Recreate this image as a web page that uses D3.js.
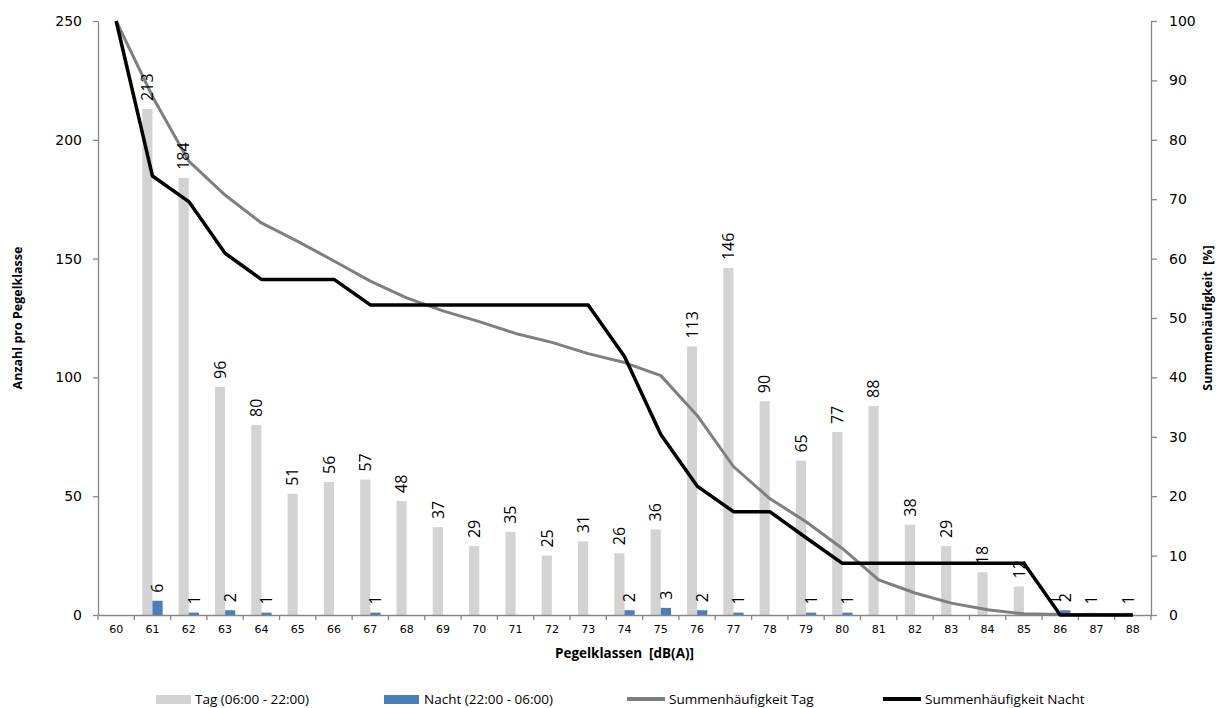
<!DOCTYPE html>
<html>
<head>
<meta charset="utf-8">
<script src="https://cdn.jsdelivr.net/npm/d3@7"></script>
<style>
  body { margin: 0; background: #fff; }
  svg { display: block; }
</style>
</head>
<body>
<svg id="chart" width="1216" height="708"></svg>
<script>
// Pegelklassen 60..88 dB(A)
var classes = ["60","61","62","63","64","65","66","67","68","69","70","71","72","73","74",
  "75","76","77","78","79","80","81","82","83","84","85","86","87","88"];

// Anzahl pro Pegelklasse
var tagCounts = [0,213,184,96,80,51,56,57,48,37,29,35,25,31,26,36,113,146,90,65,77,88,38,29,18,12,1,1,1];
var nachtCounts = [0,6,1,2,1,0,0,1,0,0,0,0,0,0,2,3,2,1,0,1,1,0,0,0,0,0,2,0,0];

// Summenhäufigkeit [%]
var tagCum = [100,87.3,76.4,70.7,66.0,62.9,59.6,56.2,53.4,51.2,49.4,47.4,45.9,44.0,42.5,
  40.3,33.6,25.0,19.6,15.7,11.2,5.9,3.7,2.0,0.9,0.2,0.1,0.1,0.0];
var nachtCum = [100,73.9,69.6,60.9,56.5,56.5,56.5,52.2,52.2,52.2,52.2,52.2,52.2,52.2,43.5,
  30.4,21.7,17.4,17.4,13.0,8.7,8.7,8.7,8.7,8.7,8.7,0,0,0];

var leftTicks = [0,50,100,150,200,250];
var rightTicks = [0,10,20,30,40,50,60,70,80,90,100];

var legendLabels = ["Tag (06:00 - 22:00)", "Nacht (22:00 - 06:00)", "Summenhäufigkeit Tag", "Summenhäufigkeit Nacht"];

var plotLeft = 98, plotRight = 1151, plotTop = 21, plotBottom = 615;
var axisColor = "#868686";
var tagColor = "#d3d3d3", nachtColor = "#4a7ebb";
var numFont = "DejaVu Sans, Verdana, sans-serif";
var txtFont = "Open Sans, Calibri, sans-serif";

var svg = d3.select("#chart");

var x = d3.scaleBand().domain(classes).range([plotLeft, plotRight]).padding(0);
var yL = d3.scaleLinear().domain([0, 250]).range([plotBottom, plotTop]);
var yR = d3.scaleLinear().domain([0, 100]).range([plotBottom, plotTop]);

var bw = x.bandwidth() * 0.28;

// bars
var gBars = svg.append("g");
gBars.selectAll(".tag").data(classes).enter().append("rect")
  .attr("x", function(d) { return x(d) + x.bandwidth() / 2 - bw; })
  .attr("width", bw)
  .attr("y", function(d, i) { return yL(tagCounts[i]); })
  .attr("height", function(d, i) { return plotBottom - yL(tagCounts[i]); })
  .attr("fill", tagColor);

gBars.selectAll(".nacht").data(classes).enter().append("rect")
  .attr("x", function(d) { return x(d) + x.bandwidth() / 2; })
  .attr("width", bw)
  .attr("y", function(d, i) { return yL(nachtCounts[i]); })
  .attr("height", function(d, i) { return plotBottom - yL(nachtCounts[i]); })
  .attr("fill", nachtColor);

// axes
var xAxis = d3.axisBottom(x).tickSize(0).tickPadding(10);
var gx = svg.append("g").attr("transform", "translate(0," + plotBottom + ")").call(xAxis);
gx.select(".domain").attr("stroke", axisColor).attr("stroke-width", 1.3);
gx.selectAll("text").attr("font-family", numFont).attr("font-size", 11).attr("fill", "#000");
// tick marks between classes
gx.selectAll(".sep").data(classes.concat(["end"])).enter().append("line")
  .attr("x1", function(d, i) { return plotLeft + i * x.bandwidth(); })
  .attr("x2", function(d, i) { return plotLeft + i * x.bandwidth(); })
  .attr("y1", 0).attr("y2", 5)
  .attr("stroke", axisColor).attr("stroke-width", 1.3);

var gyl = svg.append("g").attr("transform", "translate(" + plotLeft + ",0)")
  .call(d3.axisLeft(yL).tickValues(leftTicks).tickSize(5).tickPadding(11).tickSizeOuter(0));
var gyr = svg.append("g").attr("transform", "translate(" + plotRight + ",0)")
  .call(d3.axisRight(yR).tickValues(rightTicks).tickSize(6).tickPadding(12).tickSizeOuter(0));
[gyl, gyr].forEach(function(g) {
  g.select(".domain").attr("stroke", axisColor).attr("stroke-width", 1.3);
  g.selectAll(".tick line").attr("stroke", axisColor).attr("stroke-width", 1.3);
  g.selectAll("text").attr("font-family", numFont).attr("font-size", 14).attr("fill", "#000");
});

// cumulative lines
var cumLine = d3.line()
  .x(function(d, i) { return x(classes[i]) + x.bandwidth() / 2; })
  .y(function(d) { return yR(d); });

svg.append("path").datum(tagCum).attr("d", cumLine)
  .attr("fill", "none").attr("stroke", "#7f7f7f").attr("stroke-width", 3)
  .attr("stroke-linejoin", "round");
svg.append("path").datum(nachtCum).attr("d", cumLine)
  .attr("fill", "none").attr("stroke", "#000").attr("stroke-width", 3.5)
  .attr("stroke-linejoin", "round");

// data labels (rotated)
function addLabels(vals, offset) {
  svg.append("g").selectAll("text")
    .data(classes.filter(function(d, i) { return vals[i] > 0; }))
    .enter().append("text")
    .attr("transform", function(d) {
      var i = classes.indexOf(d);
      var cx = x(d) + x.bandwidth() / 2 + offset;
      return "translate(" + cx + "," + (yL(vals[i]) - 8) + ") rotate(-90)";
    })
    .attr("dy", "0.36em")
    .attr("font-family", txtFont).attr("font-size", 16).attr("fill", "#000")
    .text(function(d) { return vals[classes.indexOf(d)]; });
}
addLabels(tagCounts, -bw / 2);
addLabels(nachtCounts, bw / 2);

// axis titles
svg.append("text")
  .attr("transform", "translate(22," + ((plotTop + plotBottom) / 2) + ") rotate(-90)")
  .attr("text-anchor", "middle")
  .attr("font-family", txtFont).attr("font-weight", "bold").attr("font-size", 12.5)
  .text("Anzahl pro Pegelklasse");
svg.append("text")
  .attr("transform", "translate(1212," + ((plotTop + plotBottom) / 2) + ") rotate(-90)")
  .attr("text-anchor", "middle")
  .style("white-space", "pre")
  .attr("font-family", txtFont).attr("font-weight", "bold").attr("font-size", 12.5)
  .text("Summenhäufigkeit  [%]");
svg.append("text")
  .attr("x", (plotLeft + plotRight) / 2).attr("y", 658)
  .attr("text-anchor", "middle")
  .style("white-space", "pre")
  .attr("font-family", txtFont).attr("font-weight", "bold").attr("font-size", 13.5)
  .text("Pegelklassen  [dB(A)]");

// legend
var legX = [156, 384, 627, 883];
var leg = svg.append("g");
leg.append("rect").attr("x", legX[0]).attr("y", 695).attr("width", 35).attr("height", 9).attr("fill", tagColor);
leg.append("rect").attr("x", legX[1]).attr("y", 695).attr("width", 35).attr("height", 9).attr("fill", nachtColor);
leg.append("line").attr("x1", legX[2]).attr("x2", legX[2] + 38).attr("y1", 699).attr("y2", 699)
  .attr("stroke", "#7f7f7f").attr("stroke-width", 4);
leg.append("line").attr("x1", legX[3]).attr("x2", legX[3] + 38).attr("y1", 699).attr("y2", 699)
  .attr("stroke", "#000").attr("stroke-width", 4);
var legTextX = [195, 424, 669, 925];
leg.selectAll("text").data(legendLabels).enter().append("text")
  .attr("x", function(d, i) { return legTextX[i]; })
  .attr("y", 704)
  .attr("font-family", txtFont).attr("font-size", 13.5).attr("fill", "#000")
  .text(function(d) { return d; });
</script>
</body>
</html>
